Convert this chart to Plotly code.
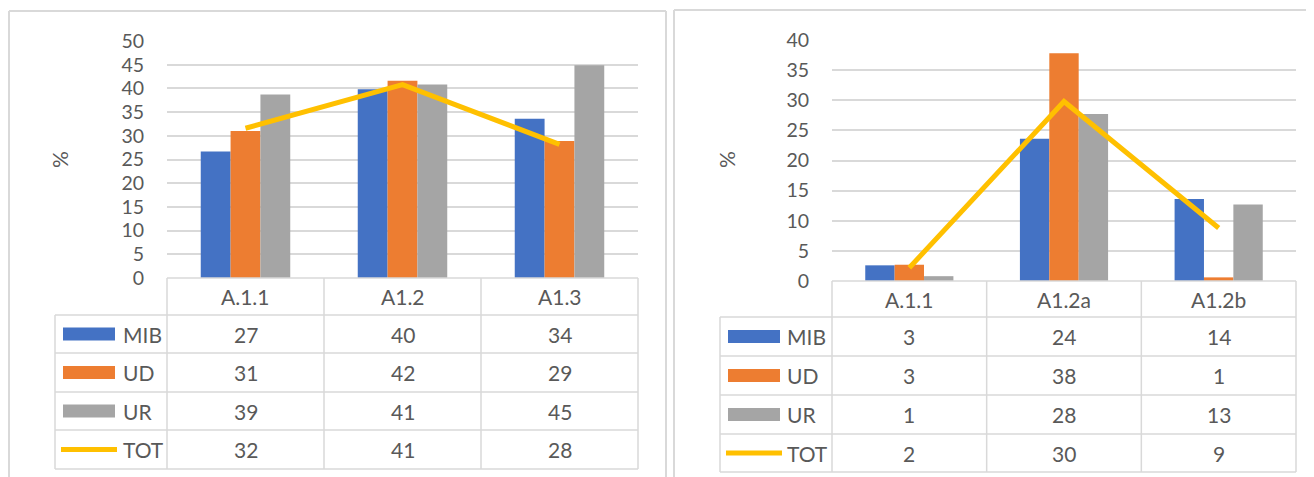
import plotly.graph_objects as go

W, H = 1314, 477
OFF = 8  # the page body adds an 8px margin; pixel coords below are window coords

SERIES = ["MIB", "UD", "UR", "TOT"]
COLORS = {"MIB": "#4472c4", "UD": "#ed7d31", "UR": "#a5a5a5", "TOT": "#ffc000"}
INK = "#595959"
LINE = "#d9d9d9"
FONT = "Lato, 'Open Sans', sans-serif"
FS = 21
TICK_FS = 19.5

# left chart
cats_a = ["A.1.1", "A1.2", "A1.3"]
mib_a = [26.7, 39.8, 33.6]
ud_a = [31.0, 41.6, 28.9]
ur_a = [38.7, 40.8, 44.9]
tot_a = [31.6, 40.8, 28.2]

# right chart
cats_b = ["A.1.1", "A1.2a", "A1.2b"]
mib_b = [2.6, 23.6, 13.6]
ud_b = [2.7, 37.8, 0.6]
ur_b = [0.8, 27.7, 12.7]
tot_b = [2.2, 29.8, 8.8]


def fx(px):
    return (px - OFF) / W


def fy(py):
    return 1 - (py - OFF) / H


# pixel geometry of each panel (plot box, table rows, legend column)
PANELS = [
    dict(cats=cats_a, data=[mib_a, ud_a, ur_a, tot_a], ymax=50,
         x0=167, x1=638, ytop=41, ybot=278,
         rows=[315, 353, 392, 430, 469], leg=55, sw=(63, 115), lab=121,
         pct=(59, 160), frame=(9, 666, 11)),
    dict(cats=cats_b, data=[mib_b, ud_b, ur_b, tot_b], ymax=40,
         x0=832, x1=1296, ytop=40, ybot=281,
         rows=[317, 356, 395, 434, 472], leg=720, sw=(728, 780), lab=785,
         pct=(726, 160), frame=(674, 1340, 10)),
]

fig = go.Figure()
shapes, annos = [], []


def hline(x0, x1, y, color=LINE, width=1.5):
    shapes.append(dict(type="line", xref="paper", yref="paper",
                       x0=fx(x0), x1=fx(x1), y0=fy(y), y1=fy(y),
                       line=dict(color=color, width=width)))


def vline(x, y0, y1, color=LINE, width=1.5):
    shapes.append(dict(type="line", xref="paper", yref="paper",
                       x0=fx(x), x1=fx(x), y0=fy(y0), y1=fy(y1),
                       line=dict(color=color, width=width)))


def text(x, y, s, xanchor="center", angle=0):
    annos.append(dict(xref="paper", yref="paper", x=fx(x), y=fy(y),
                      text=s, showarrow=False, xanchor=xanchor,
                      yanchor="middle", textangle=angle,
                      font=dict(size=FS, color=INK)))


for i, p in enumerate(PANELS):
    sfx = "" if i == 0 else str(i + 1)
    xa, ya = "x" + sfx, "y" + sfx
    for name, vals in zip(SERIES, p["data"]):
        if name == "TOT":
            fig.add_trace(go.Scatter(
                x=p["cats"], y=vals, name=name, mode="lines",
                line=dict(color=COLORS[name], width=5),
                xaxis=xa, yaxis=ya, showlegend=False))
        else:
            fig.add_trace(go.Bar(
                x=p["cats"], y=vals, name=name,
                marker=dict(color=COLORS[name], line=dict(width=0)),
                xaxis=xa, yaxis=ya, showlegend=False))

    fig.update_layout({
        "xaxis" + sfx: dict(domain=[fx(p["x0"]), fx(p["x1"])], anchor=ya,
                            showticklabels=False, showgrid=False,
                            zeroline=False, showline=False),
        "yaxis" + sfx: dict(domain=[fy(p["ybot"]), fy(p["ytop"])],
                            anchor=xa, range=[0, p["ymax"]], dtick=5,
                            showgrid=True, gridcolor=LINE, gridwidth=1.5,
                            zeroline=False, showline=False,
                            ticklabelstandoff=22,
                            tickfont=dict(size=TICK_FS, color=INK)),
    })

    # panel frame
    fl, fr, ft = p["frame"]
    hline(fl, fr, ft, width=2)
    vline(fl, ft, H + 20, width=2)
    vline(fr, ft, H + 20, width=2)

    # data table
    x0, x1, rows = p["x0"], p["x1"], p["rows"]
    cw = (x1 - x0) / 3
    hline(x0, x1, p["ybot"])
    for r in rows:
        hline(p["leg"], x1, r)
    vline(p["leg"], rows[0], rows[-1])
    for k in range(4):
        vline(x0 + k * cw, p["ybot"], rows[-1])

    for k, c in enumerate(p["cats"]):
        text(x0 + (k + 0.5) * cw, (p["ybot"] + rows[0]) / 2, c)

    for j, (name, vals) in enumerate(zip(SERIES, p["data"])):
        yc = (rows[j] + rows[j + 1]) / 2
        s0, s1 = p["sw"]
        if name == "TOT":
            hline(s0 - 2, s1 + 2, yc, color=COLORS[name], width=5)
        else:
            shapes.append(dict(type="rect", xref="paper", yref="paper",
                               x0=fx(s0), x1=fx(s1),
                               y0=fy(yc + 6.5), y1=fy(yc - 6.5),
                               fillcolor=COLORS[name], line=dict(width=0)))
        text(p["lab"], yc, name, xanchor="left")
        for k, v in enumerate(vals):
            text(x0 + (k + 0.5) * cw, yc, f"{v:.0f}")

    text(*p["pct"], "%", angle=-90)

fig.update_layout(
    width=W, height=H,
    margin=dict(l=0, r=0, t=0, b=0, pad=0, autoexpand=False),
    paper_bgcolor="white", plot_bgcolor="white",
    font=dict(family=FONT, color=INK, size=FS),
    barmode="group", bargap=0.43, bargroupgap=0,
    shapes=shapes, annotations=annos,
)

fig.write_html("out.html")
